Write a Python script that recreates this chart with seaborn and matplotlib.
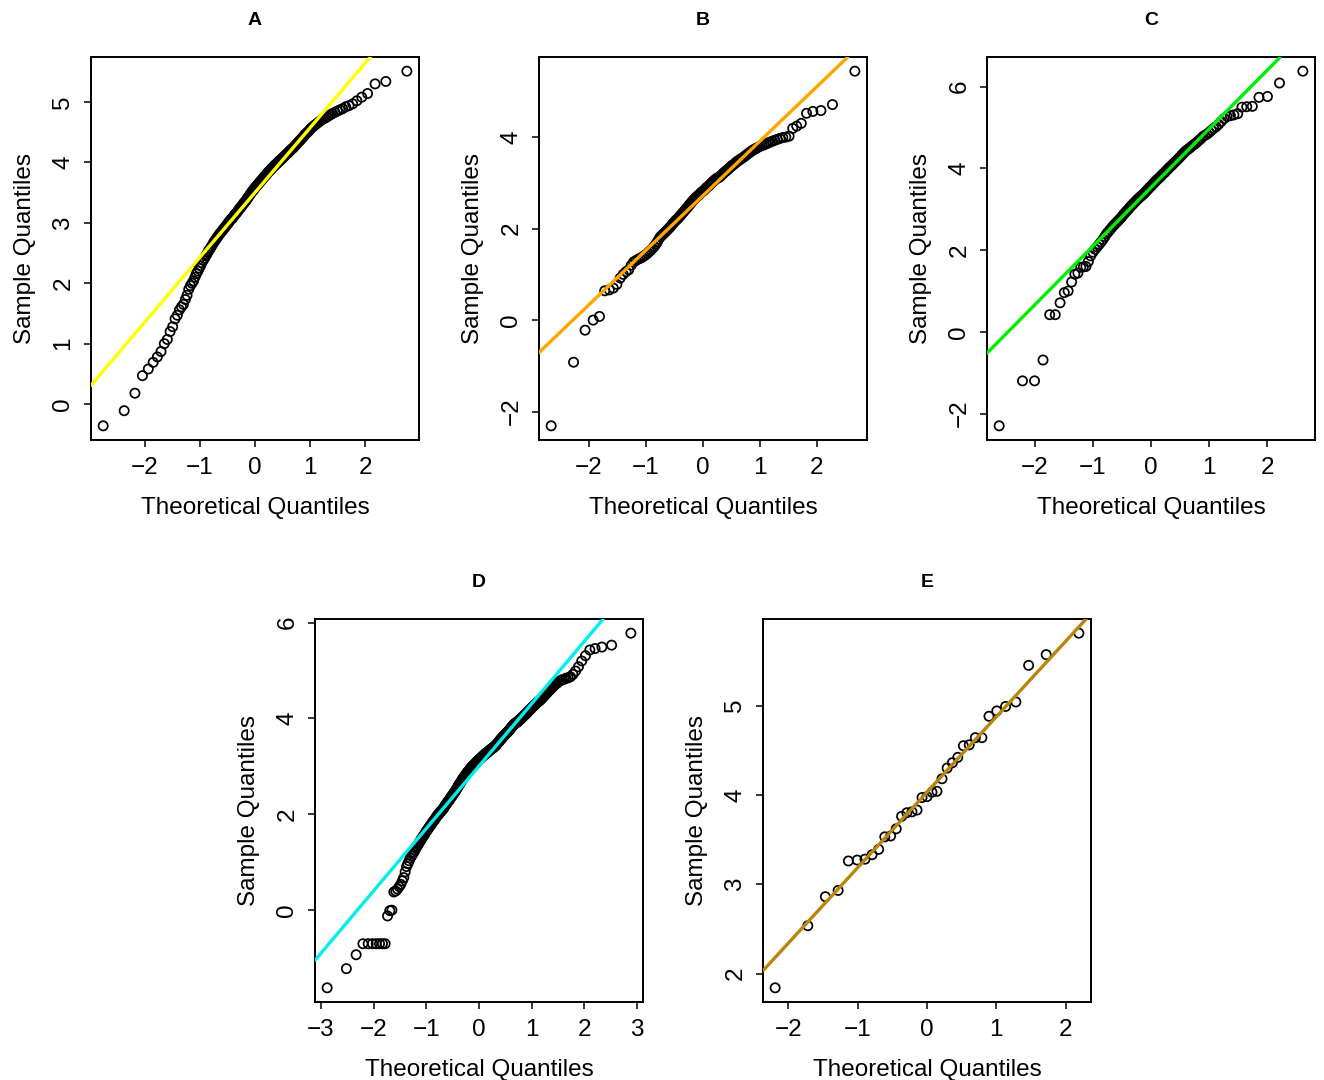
import numpy as np
import matplotlib
matplotlib.use("Agg")
import matplotlib.pyplot as plt
import seaborn as sns
from statistics import NormalDist

# -------- panel titles / line colours --------
PANELS = ["A", "B", "C", "D", "E"]
LINE_COLORS = ["#FFFF00", "#FFA500", "#00EE00", "#00EEEE", "#B8860B"]

# -------- sorted sample values --------
sample_a = [
    -0.36, -0.11, 0.18, 0.47, 0.58, 0.69, 0.78, 0.87, 1.00, 1.07,
    1.20, 1.28, 1.41, 1.47, 1.56, 1.61, 1.65, 1.73, 1.80, 1.90,
    1.96, 2.00, 2.04, 2.10, 2.16, 2.20, 2.25, 2.29, 2.34, 2.38,
    2.41, 2.45, 2.48, 2.52, 2.55, 2.58, 2.61, 2.64, 2.67, 2.70,
    2.72, 2.75, 2.77, 2.80, 2.82, 2.84, 2.86, 2.88, 2.90, 2.92,
    2.94, 2.96, 2.98, 3.00, 3.02, 3.04, 3.06, 3.07, 3.09, 3.11,
    3.13, 3.15, 3.16, 3.18, 3.20, 3.22, 3.24, 3.25, 3.27, 3.29,
    3.31, 3.33, 3.34, 3.36, 3.38, 3.40, 3.42, 3.44, 3.46, 3.48,
    3.50, 3.52, 3.53, 3.55, 3.57, 3.59, 3.60, 3.62, 3.63, 3.65,
    3.67, 3.68, 3.70, 3.71, 3.73, 3.75, 3.76, 3.78, 3.79, 3.81,
    3.83, 3.84, 3.86, 3.87, 3.89, 3.90, 3.92, 3.93, 3.95, 3.96,
    3.97, 3.99, 4.00, 4.02, 4.03, 4.04, 4.06, 4.07, 4.09, 4.10,
    4.12, 4.13, 4.15, 4.16, 4.18, 4.20, 4.21, 4.23, 4.24, 4.26,
    4.28, 4.30, 4.32, 4.34, 4.36, 4.38, 4.40, 4.42, 4.45, 4.47,
    4.49, 4.51, 4.53, 4.56, 4.58, 4.60, 4.62, 4.64, 4.66, 4.68,
    4.70, 4.72, 4.73, 4.75, 4.77, 4.79, 4.81, 4.83, 4.85, 4.87,
    4.89, 4.92, 4.94, 4.97, 5.02, 5.08, 5.14, 5.30, 5.34, 5.51,
]

sample_b = [
    -2.31, -0.92, -0.22, 0.00, 0.08, 0.64, 0.66, 0.70, 0.78, 0.92,
    1.00, 1.06, 1.10, 1.20, 1.27, 1.30, 1.33, 1.35, 1.37, 1.40,
    1.43, 1.46, 1.50, 1.53, 1.57, 1.61, 1.66, 1.71, 1.77, 1.82,
    1.85, 1.88, 1.91, 1.94, 1.97, 2.00, 2.03, 2.06, 2.10, 2.13,
    2.16, 2.19, 2.21, 2.24, 2.27, 2.30, 2.33, 2.36, 2.39, 2.42,
    2.45, 2.48, 2.51, 2.54, 2.57, 2.60, 2.63, 2.65, 2.68, 2.70,
    2.72, 2.74, 2.77, 2.79, 2.81, 2.83, 2.85, 2.88, 2.90, 2.92,
    2.94, 2.96, 2.99, 3.01, 3.04, 3.06, 3.08, 3.10, 3.11, 3.12,
    3.14, 3.17, 3.19, 3.22, 3.24, 3.26, 3.28, 3.31, 3.33, 3.36,
    3.38, 3.40, 3.42, 3.45, 3.47, 3.49, 3.51, 3.53, 3.55, 3.57,
    3.60, 3.62, 3.65, 3.67, 3.70, 3.72, 3.74, 3.76, 3.78, 3.80,
    3.82, 3.83, 3.85, 3.87, 3.89, 3.91, 3.93, 3.95, 3.97, 3.99,
    4.00, 4.02, 4.19, 4.24, 4.30, 4.52, 4.56, 4.58, 4.71, 5.44,
]

sample_c = [
    -2.30, -1.20, -1.20, -0.69, 0.42, 0.42, 0.71, 0.96, 1.00, 1.22,
    1.41, 1.44, 1.58, 1.59, 1.60, 1.72, 1.86, 1.95, 2.02, 2.08,
    2.14, 2.20, 2.26, 2.33, 2.40, 2.45, 2.50, 2.55, 2.60, 2.64,
    2.68, 2.72, 2.76, 2.80, 2.85, 2.89, 2.93, 2.97, 3.01, 3.05,
    3.09, 3.12, 3.16, 3.19, 3.23, 3.26, 3.29, 3.32, 3.35, 3.38,
    3.41, 3.45, 3.48, 3.52, 3.55, 3.58, 3.62, 3.65, 3.69, 3.72,
    3.75, 3.78, 3.81, 3.85, 3.88, 3.91, 3.95, 3.98, 4.02, 4.05,
    4.08, 4.12, 4.15, 4.19, 4.22, 4.26, 4.30, 4.34, 4.38, 4.42,
    4.45, 4.48, 4.51, 4.55, 4.58, 4.61, 4.65, 4.69, 4.73, 4.78,
    4.81, 4.84, 4.88, 4.93, 4.98, 5.02, 5.08, 5.15, 5.22, 5.27,
    5.29, 5.31, 5.34, 5.50, 5.51, 5.52, 5.74, 5.76, 6.09, 6.38,
]

sample_d = [
    -1.62, -1.22, -0.93, -0.70, -0.70, -0.70, -0.70, -0.70, -0.70, -0.70,
    -0.12, -0.01, 0.00, 0.38, 0.40, 0.44, 0.49, 0.54, 0.61, 0.68,
    0.80, 0.91, 0.97, 1.03, 1.09, 1.13, 1.17, 1.21, 1.25, 1.30,
    1.33, 1.37, 1.40, 1.44, 1.47, 1.50, 1.53, 1.56, 1.59, 1.62,
    1.65, 1.67, 1.70, 1.72, 1.75, 1.77, 1.79, 1.82, 1.84, 1.86,
    1.88, 1.90, 1.93, 1.95, 1.97, 1.99, 2.00, 2.02, 2.04, 2.06,
    2.07, 2.09, 2.10, 2.12, 2.14, 2.17, 2.19, 2.20, 2.22, 2.24,
    2.26, 2.28, 2.29, 2.31, 2.33, 2.35, 2.37, 2.38, 2.40, 2.42,
    2.44, 2.46, 2.47, 2.49, 2.51, 2.53, 2.55, 2.57, 2.59, 2.61,
    2.63, 2.65, 2.66, 2.68, 2.70, 2.72, 2.74, 2.75, 2.77, 2.79,
    2.80, 2.82, 2.83, 2.85, 2.86, 2.88, 2.89, 2.90, 2.92, 2.93,
    2.95, 2.96, 2.97, 2.99, 3.00, 3.01, 3.02, 3.03, 3.04, 3.05,
    3.06, 3.07, 3.09, 3.10, 3.11, 3.12, 3.13, 3.14, 3.15, 3.16,
    3.17, 3.18, 3.19, 3.20, 3.21, 3.22, 3.23, 3.24, 3.25, 3.26,
    3.27, 3.28, 3.28, 3.29, 3.30, 3.31, 3.32, 3.33, 3.34, 3.35,
    3.36, 3.37, 3.37, 3.38, 3.39, 3.40, 3.41, 3.42, 3.43, 3.44,
    3.45, 3.47, 3.48, 3.50, 3.51, 3.52, 3.54, 3.55, 3.57, 3.58,
    3.59, 3.61, 3.62, 3.64, 3.65, 3.66, 3.67, 3.69, 3.70, 3.71,
    3.72, 3.74, 3.75, 3.77, 3.78, 3.80, 3.82, 3.83, 3.85, 3.86,
    3.88, 3.89, 3.90, 3.91, 3.92, 3.92, 3.94, 3.95, 3.97, 3.98,
    3.99, 4.01, 4.02, 4.04, 4.05, 4.07, 4.08, 4.10, 4.11, 4.13,
    4.15, 4.17, 4.18, 4.20, 4.22, 4.24, 4.26, 4.27, 4.29, 4.31,
    4.33, 4.35, 4.36, 4.38, 4.40, 4.42, 4.45, 4.47, 4.50, 4.52,
    4.55, 4.58, 4.60, 4.63, 4.66, 4.69, 4.72, 4.74, 4.77, 4.79,
    4.81, 4.82, 4.84, 4.85, 4.87, 4.92, 4.99, 5.08, 5.20, 5.31,
    5.43, 5.46, 5.49, 5.53, 5.78,
]

sample_e = [
    1.84, 2.535, 2.86, 2.93, 3.26, 3.27, 3.28, 3.33, 3.39, 3.53,
    3.54, 3.62, 3.76, 3.80, 3.81, 3.83, 3.97, 3.98, 4.03, 4.04,
    4.18, 4.30, 4.36, 4.42, 4.55, 4.56, 4.64, 4.64, 4.88, 4.94,
    4.99, 5.04, 5.45, 5.57, 5.81,
]

SAMPLES = [sample_a, sample_b, sample_c, sample_d, sample_e]

# tick values per panel
X_TICKS = [[-2, -1, 0, 1, 2]] * 3 + [[-3, -2, -1, 0, 1, 2, 3], [-2, -1, 0, 1, 2]]
Y_TICKS = [[0, 1, 2, 3, 4, 5], [-2, 0, 2, 4], [-2, 0, 2, 4, 6], [0, 2, 4, 6], [2, 3, 4, 5]]

# axes boxes in pixels (left, top) of a 1324x1080 canvas
BOX_POS = [(91, 57), (539, 57), (987, 57), (315, 619), (763, 619)]
BOX_W, BOX_H = 328, 383
FIG_W, FIG_H = 1324, 1080


def qq_points(sample):
    """theoretical quantiles like R's ppoints/qqnorm"""
    n = len(sample)
    a = 3 / 8 if n <= 10 else 0.5
    nd = NormalDist()
    theo = [nd.inv_cdf((i + 1 - a) / (n + 1 - 2 * a)) for i in range(n)]
    return np.array(theo), np.sort(np.array(sample))


def qq_line(sample):
    """R qqline: line through the first and third quartiles"""
    y1, y2 = np.quantile(sample, [0.25, 0.75])
    x1, x2 = NormalDist().inv_cdf(0.25), NormalDist().inv_cdf(0.75)
    slope = (y2 - y1) / (x2 - x1)
    return y1 - slope * x1, slope


sns.set_theme(style="white")
plt.rcParams["font.family"] = ["Liberation Sans", "DejaVu Sans"]
plt.rcParams["text.color"] = "black"
plt.rcParams["axes.labelcolor"] = "black"
plt.rcParams["xtick.color"] = "black"
plt.rcParams["ytick.color"] = "black"

fig = plt.figure(figsize=(FIG_W / 100, FIG_H / 100), dpi=100)

for title, sample, color, xt, yt, (left, top) in zip(PANELS, SAMPLES, LINE_COLORS, X_TICKS, Y_TICKS, BOX_POS):
    ax = fig.add_axes([left / FIG_W, 1 - (top + BOX_H) / FIG_H, BOX_W / FIG_W, BOX_H / FIG_H])
    theo, samp = qq_points(sample)

    sns.scatterplot(x=theo, y=samp, ax=ax, s=44, marker="o",
                    facecolor="none", edgecolor="black", linewidth=1.25, zorder=2)
    b0, b1 = qq_line(samp)
    ax.axline((0, b0), slope=b1, color=color, lw=2.4, zorder=3)

    # R style 4% padding
    xr = theo.max() - theo.min()
    yr = samp.max() - samp.min()
    ax.set_xlim(theo.min() - 0.04 * xr, theo.max() + 0.04 * xr)
    ax.set_ylim(samp.min() - 0.04 * yr, samp.max() + 0.04 * yr)

    ax.set_xticks(xt)
    ax.set_yticks(yt)
    ax.tick_params(axis="both", which="major", direction="out", length=5, width=1.1,
                   labelsize=17.5, pad=7, bottom=True, left=True, color="black")
    ax.tick_params(axis="y", labelrotation=90)
    for lab in ax.get_yticklabels():
        lab.set_va("center")
    for sp in ax.spines.values():
        sp.set_visible(True)
        sp.set_color("black")
        sp.set_linewidth(1.4)

    ax.set_xlabel("Theoretical Quantiles", fontsize=17.5, labelpad=13)
    ax.set_ylabel("Sample Quantiles", fontsize=17.5, labelpad=12)
    ax.set_title(title, fontsize=14, fontweight="bold", pad=23)

plt.savefig("out.png", dpi=100)
